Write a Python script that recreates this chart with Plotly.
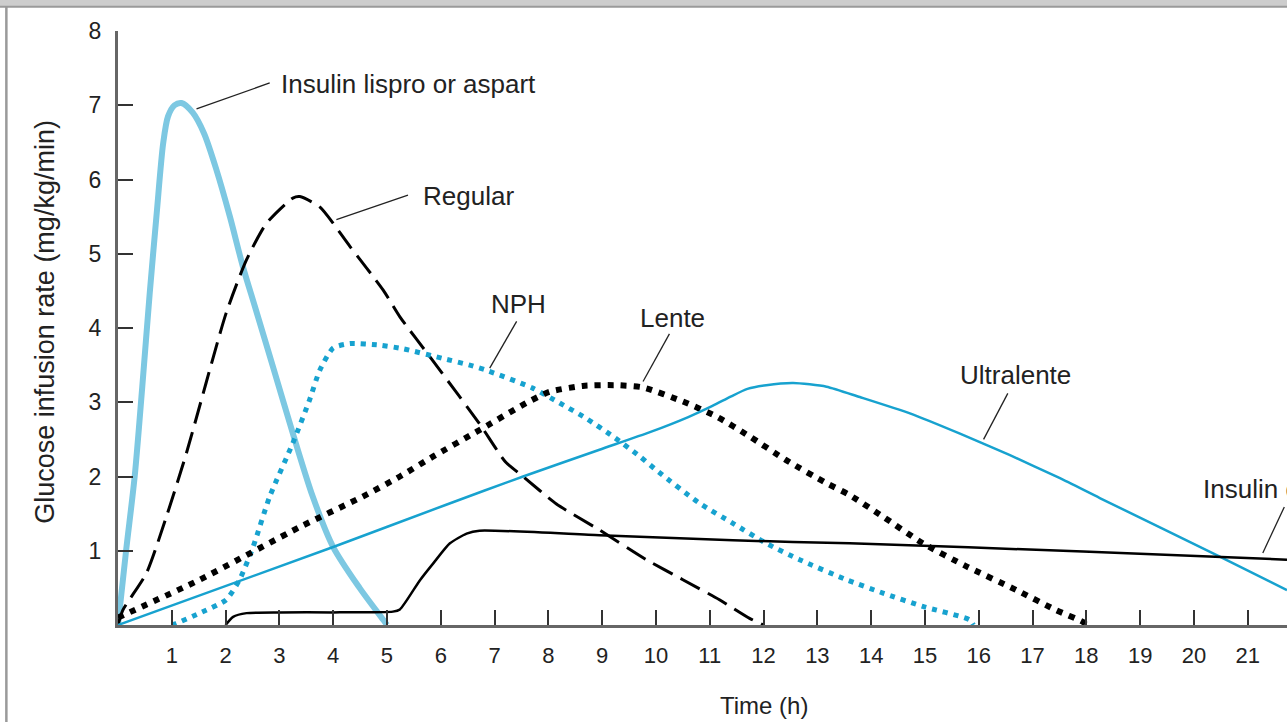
import plotly.graph_objects as go

# ---- data (hours, glucose infusion rate mg/kg/min) ----
lispro_x = [0, 0.15, 0.31, 0.45, 0.59, 0.72, 0.84, 0.93, 1.05, 1.18, 1.39, 1.6, 1.83, 2.08, 2.32, 2.54, 2.88, 3.25, 3.62, 4.0, 4.49, 4.93, 5.0]
lispro_y = [0, 1.0, 2.0, 3.2, 4.47, 5.55, 6.49, 6.85, 7.0, 7.03, 6.9, 6.62, 6.13, 5.5, 4.83, 4.3, 3.48, 2.58, 1.73, 1.05, 0.5, 0.07, 0]

regular_x = [0, 0.09, 0.53, 0.9, 1.27, 2.01, 2.39, 2.76, 3.25, 3.38, 3.75, 4.31, 4.93, 5.24, 5.82, 6.72, 7.2, 7.53, 8.15, 8.95, 9.82, 10.5, 11.18, 11.74, 12.0]
regular_y = [0, 0.2, 0.7, 1.46, 2.31, 4.2, 4.92, 5.41, 5.75, 5.77, 5.63, 5.1, 4.51, 4.15, 3.59, 2.71, 2.2, 2.0, 1.63, 1.28, 0.88, 0.61, 0.34, 0.09, 0]

nph_x = [1.0, 1.08, 1.52, 2.01, 2.26, 2.51, 2.82, 3.25, 3.56, 3.75, 4.0, 4.31, 4.86, 5.3, 6.04, 6.54, 6.85, 7.71, 8.21, 8.71, 9.2, 9.7, 10.05, 10.81, 11.43, 12.05, 12.67, 13.54, 14.22, 14.96, 15.83, 15.9]
nph_y = [0, 0.02, 0.16, 0.34, 0.61, 1.05, 1.73, 2.45, 3.03, 3.43, 3.73, 3.79, 3.77, 3.72, 3.59, 3.5, 3.43, 3.19, 2.99, 2.78, 2.54, 2.27, 2.06, 1.64, 1.37, 1.1, 0.88, 0.61, 0.43, 0.25, 0.07, 0]

lente_x = [0, 1.52, 3.38, 4.55, 5.24, 5.86, 6.66, 7.59, 8.02, 8.64, 9.26, 9.76, 10.5, 11.12, 11.74, 12.42, 13.17, 13.6, 14.22, 14.96, 15.77, 16.7, 17.44, 17.94, 18.0]
lente_y = [0.1, 0.61, 1.32, 1.73, 2.0, 2.27, 2.6, 2.99, 3.14, 3.22, 3.23, 3.2, 3.01, 2.81, 2.54, 2.22, 1.91, 1.75, 1.46, 1.1, 0.79, 0.47, 0.2, 0.04, 0]

ultra_x = [0, 4.0, 6.1, 7.53, 8.95, 9.9, 10.6, 11.05, 11.4, 11.7, 12.05, 12.55, 13.17, 13.79, 14.72, 15.64, 16.57, 17.5, 18.25, 20.48, 21.73]
ultra_y = [0, 1.05, 1.62, 2.0, 2.36, 2.6, 2.8, 2.95, 3.08, 3.18, 3.23, 3.26, 3.21, 3.07, 2.85, 2.58, 2.29, 1.98, 1.71, 0.92, 0.47]

glargine_x = [2.0, 2.14, 2.39, 3.0, 4.0, 5.11, 5.24, 5.61, 5.86, 6.17, 6.48, 6.72, 8.95, 11.43, 13.6, 17.94, 21.73]
glargine_y = [0, 0.11, 0.16, 0.17, 0.17, 0.18, 0.21, 0.6, 0.83, 1.1, 1.23, 1.27, 1.21, 1.14, 1.1, 0.99, 0.88]

x_ticks = list(range(1, 22))
y_ticks = list(range(1, 9))

# labels: (text, x, y, xanchor), leader lines: (x0, y0, x1, y1)
labels = [
    ("Insulin lispro or aspart", 3.0, 7.29, "left"),
    ("Regular", 5.64, 5.78, "left"),
    ("NPH", 7.45, 4.32, "center"),
    ("Lente", 10.3, 4.13, "center"),
    ("Ultralente", 15.61, 3.37, "left"),
    ("Insulin glargine", 20.14, 1.83, "left"),
]
leaders = [
    (1.46, 6.95, 2.82, 7.30),
    (4.06, 5.46, 5.39, 5.79),
    (6.91, 3.46, 7.41, 4.09),
    (9.76, 3.28, 10.25, 3.92),
    (16.09, 2.50, 16.54, 3.12),
    (21.28, 0.97, 21.68, 1.59),
]

LIGHT_BLUE = "#7dc8e2"
BLUE = "#17a2cf"
FONT = "Liberation Sans, Arial, sans-serif"

fig = go.Figure()
fig.add_trace(go.Scatter(x=lispro_x, y=lispro_y, mode="lines",
                         line=dict(color=LIGHT_BLUE, width=6, shape="spline", smoothing=0.8)))
fig.add_trace(go.Scatter(x=regular_x, y=regular_y, mode="lines",
                         line=dict(color="black", width=3, dash="22px,9px", shape="spline", smoothing=0.6)))
fig.add_trace(go.Scatter(x=nph_x, y=nph_y, mode="lines",
                         line=dict(color=BLUE, width=5, dash="5px,6px", shape="spline", smoothing=0.6)))
fig.add_trace(go.Scatter(x=lente_x, y=lente_y, mode="lines",
                         line=dict(color="black", width=6, dash="6px,7px", shape="spline", smoothing=0.6)))
fig.add_trace(go.Scatter(x=ultra_x, y=ultra_y, mode="lines",
                         line=dict(color=BLUE, width=2.5, shape="spline", smoothing=0.6)))
fig.add_trace(go.Scatter(x=glargine_x, y=glargine_y, mode="lines",
                         line=dict(color="black", width=2.5, shape="spline", smoothing=0.6)))

for x0, y0, x1, y1 in leaders:
    fig.add_shape(type="line", x0=x0, y0=y0, x1=x1, y1=y1, xref="x", yref="y",
                  line=dict(color="#222", width=1.3))

for text, x, y, anchor in labels:
    fig.add_annotation(text=text, x=x, y=y, xref="x", yref="y", showarrow=False,
                       xanchor=anchor, yanchor="middle", font=dict(family=FONT, size=26, color="#222"))

fig.add_annotation(text="Time (h)", x=12.0, y=-0.136, xref="x", yref="paper", showarrow=False,
                   xanchor="center", yanchor="middle", font=dict(family=FONT, size=24, color="#222"))
fig.add_annotation(text="Glucose infusion rate (mg/kg/min)", x=-0.0627, y=0.51, xref="paper", yref="paper",
                   showarrow=False, textangle=-90, xanchor="center", yanchor="middle",
                   font=dict(family=FONT, size=27, color="#222"))

# frame of the original picture (gray top band and left rule)
fig.add_shape(type="rect", xref="paper", yref="paper", x0=-0.11, x1=1.01, y0=1.041, y1=1.07,
              fillcolor="#cdcdcd", line=dict(width=0), layer="above")
fig.add_shape(type="line", xref="paper", yref="paper", x0=-0.11, x1=1.01, y0=1.041, y1=1.041,
              line=dict(color="#9a9a9a", width=2), layer="above")
fig.add_shape(type="line", xref="paper", yref="paper", x0=-0.0955, x1=-0.0955, y0=-0.17, y1=1.041,
              line=dict(color="#9a9a9a", width=2.5), layer="above")

fig.update_layout(
    width=1287, height=722,
    margin=dict(l=118, r=0, t=31, b=97),
    paper_bgcolor="white", plot_bgcolor="white",
    showlegend=False,
    font=dict(family=FONT, color="#222"),
    xaxis=dict(range=[0, 21.73], tickvals=x_ticks, ticks="inside", ticklen=15, tickwidth=2,
               tickcolor="#333", showline=True, linecolor="#666", linewidth=3, showgrid=False,
               zeroline=False, tickfont=dict(size=22, color="#222"), ticklabelstandoff=9),
    yaxis=dict(range=[0, 8], tickvals=y_ticks, ticks="inside", ticklen=15, tickwidth=2,
               tickcolor="#333", showline=True, linecolor="#666", linewidth=3, showgrid=False,
               zeroline=False, tickfont=dict(size=23, color="#222"), ticklabelstandoff=9),
)

fig.write_html("out.html", config={"displayModeBar": False},
               post_script="document.body.style.margin='0px';")
